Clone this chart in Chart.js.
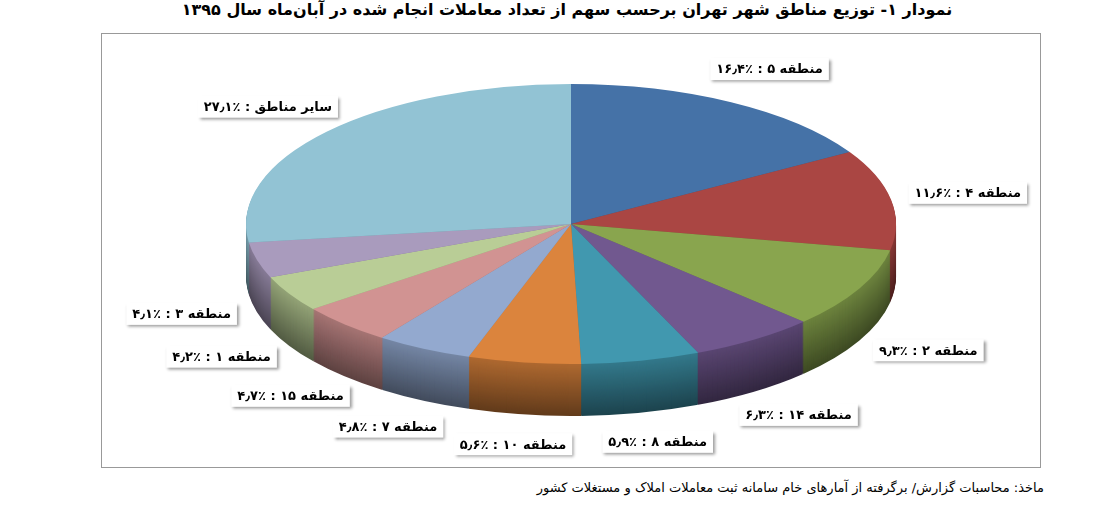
<!DOCTYPE html>
<html><head><meta charset="utf-8">
<script src="https://cdn.jsdelivr.net/npm/chart.js@4"></script>
<style>
body{margin:0;width:1094px;height:510px;background:#fff;font-family:"DejaVu Sans",sans-serif;position:relative;overflow:hidden}
#title{position:absolute;top:0;left:0;width:1094px;text-align:center;font-weight:bold;font-size:16px;direction:rtl;padding-left:40px;box-sizing:border-box}
#box{position:absolute;left:101px;top:33px;width:940px;height:435px;border:1px solid #999;box-sizing:border-box}
#src{position:absolute;right:50px;top:480px;font-size:13px;direction:rtl}
</style></head><body>
<div id="title">نمودار ۱- توزیع مناطق شهر تهران برحسب سهم از تعداد معاملات انجام شده در آبان‌ماه سال ۱۳۹۵</div>
<div id="box"><canvas id="c" width="938" height="433"></canvas></div>
<div id="src">ماخذ: محاسبات گزارش/ برگرفته از آمارهای خام سامانه ثبت معاملات املاک و مستغلات کشور</div>
<script>
const categories=["منطقه ۵","منطقه ۴","منطقه ۲","منطقه ۱۴","منطقه ۸","منطقه ۱۰","منطقه ۷","منطقه ۱۵","منطقه ۱","منطقه ۳","سایر مناطق"];
const percentLabels=["۱۶٫۴","۱۱٫۶","۹٫۳","۶٫۳","۵٫۹","۵٫۶","۴٫۸","۴٫۷","۴٫۲","۴٫۱","۲۷٫۱"];
const values=[16.4,11.6,9.3,6.3,5.9,5.6,4.8,4.7,4.2,4.1,27.1];
const colors=["#4572A7","#AA4643","#89A54E","#71588F","#4198AF","#DB843D","#93A9CF","#D19392","#B9CD96","#A99BBD","#92C3D4"];
const CX=469,CY=190,RX=325,RY=140,DEPTH=52;
function dark(h,f){const n=parseInt(h.slice(1),16);return `rgb(${(n>>16&255)*f|0},${(n>>8&255)*f|0},${(n&255)*f|0})`;}
function xf(ctx,a,dy){ctx.translate(CX,CY+dy);ctx.scale(RX/a.outerRadius,RY/a.outerRadius);ctx.translate(-a.x,-a.y);}
const pie3d={id:'pie3d',
beforeDatasetsDraw(chart){const ctx=chart.ctx;const arcs=chart.getDatasetMeta(0).data;
 for(let d=DEPTH;d>0;d--){arcs.forEach((a,i)=>{ctx.save();xf(ctx,a,d);ctx.beginPath();ctx.moveTo(a.x,a.y);ctx.arc(a.x,a.y,a.outerRadius,a.startAngle,a.endAngle);ctx.closePath();ctx.fillStyle=dark(colors[i],0.45+0.35*(1-d/DEPTH));ctx.fill();ctx.restore();});}
 ctx.save();xf(ctx,arcs[0],0);},
afterDatasetsDraw(chart){const ctx=chart.ctx;ctx.restore();
 const arcs=chart.getDatasetMeta(0).data;
 arcs.forEach((a,i)=>{const m=(a.startAngle+a.endAngle)/2;const t=m+Math.PI/2;
  const x=CX+(RX+78)*Math.sin(t),y=CY-(RY+38)*Math.cos(t)+(Math.cos(t)<0?DEPTH-8:0);
  const txt=categories[i]+" : ٪"+percentLabels[i];
  ctx.save();ctx.font="bold 13px 'DejaVu Sans'";ctx.direction='rtl';
  const w=ctx.measureText(txt).width+12,h=22;
  ctx.shadowColor='rgba(0,0,0,0.4)';ctx.shadowOffsetX=2;ctx.shadowOffsetY=2;ctx.shadowBlur=3;
  ctx.fillStyle='#fff';ctx.fillRect(x-w/2,y-h/2,w,h);ctx.shadowColor='transparent';
  ctx.fillStyle='#000';ctx.textAlign='center';ctx.textBaseline='middle';ctx.fillText(txt,x,y+1);ctx.restore();});}
};
new Chart(document.getElementById('c'),{type:'pie',
data:{labels:categories,datasets:[{data:values,backgroundColor:colors,borderWidth:0}]},
options:{responsive:false,animation:false,plugins:{legend:{display:false},tooltip:{enabled:false}}},
plugins:[pie3d]});
</script></body></html>
